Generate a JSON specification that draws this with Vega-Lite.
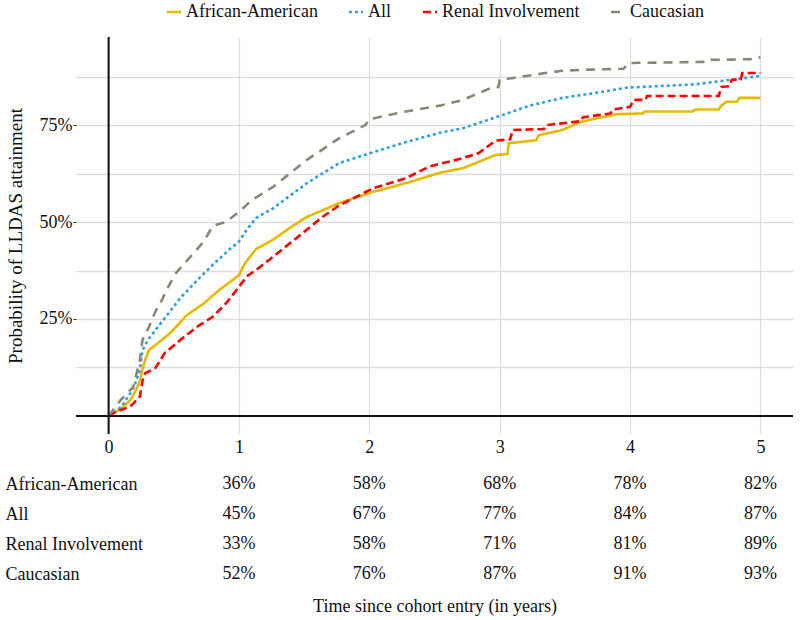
{
  "$schema": "https://vega.github.io/schema/vega-lite/v6.json",
  "background": "white",
  "padding": {"left": 5, "top": 3, "right": 7, "bottom": 4},
  "config": {
    "view": {"stroke": null},
    "font": "Liberation Serif",
    "axis": {"labelFont": "Liberation Serif", "titleFont": "Liberation Serif", "labelColor": "#111111", "titleColor": "#111111", "titleFontWeight": "normal"},
    "legend": {"labelFont": "Liberation Serif"},
    "text": {"font": "Liberation Serif"}
  },
  "datasets": {
    "curves": [
      {"group": "African-American", "t": 0, "p": 0},
      {"group": "African-American", "t": 0.05, "p": 0.01},
      {"group": "African-American", "t": 0.1, "p": 0.02},
      {"group": "African-American", "t": 0.165, "p": 0.04},
      {"group": "African-American", "t": 0.2, "p": 0.06},
      {"group": "African-American", "t": 0.24, "p": 0.09},
      {"group": "African-American", "t": 0.26, "p": 0.12},
      {"group": "African-American", "t": 0.28, "p": 0.144},
      {"group": "African-American", "t": 0.31, "p": 0.17},
      {"group": "African-American", "t": 0.38, "p": 0.188},
      {"group": "African-American", "t": 0.48, "p": 0.216},
      {"group": "African-American", "t": 0.6, "p": 0.26},
      {"group": "African-American", "t": 0.73, "p": 0.29},
      {"group": "African-American", "t": 0.85, "p": 0.325},
      {"group": "African-American", "t": 0.95, "p": 0.35},
      {"group": "African-American", "t": 1.0, "p": 0.363},
      {"group": "African-American", "t": 1.04, "p": 0.39},
      {"group": "African-American", "t": 1.06, "p": 0.4},
      {"group": "African-American", "t": 1.13, "p": 0.43},
      {"group": "African-American", "t": 1.26, "p": 0.454},
      {"group": "African-American", "t": 1.4, "p": 0.487},
      {"group": "African-American", "t": 1.52, "p": 0.513},
      {"group": "African-American", "t": 1.64, "p": 0.53},
      {"group": "African-American", "t": 1.77, "p": 0.549},
      {"group": "African-American", "t": 2.03, "p": 0.578},
      {"group": "African-American", "t": 2.28, "p": 0.6},
      {"group": "African-American", "t": 2.54, "p": 0.627},
      {"group": "African-American", "t": 2.72, "p": 0.639},
      {"group": "African-American", "t": 2.97, "p": 0.673},
      {"group": "African-American", "t": 3.06, "p": 0.675},
      {"group": "African-American", "t": 3.07, "p": 0.703},
      {"group": "African-American", "t": 3.28, "p": 0.711},
      {"group": "African-American", "t": 3.3, "p": 0.724},
      {"group": "African-American", "t": 3.48, "p": 0.737},
      {"group": "African-American", "t": 3.61, "p": 0.757},
      {"group": "African-American", "t": 3.74, "p": 0.767},
      {"group": "African-American", "t": 3.9, "p": 0.778},
      {"group": "African-American", "t": 4.1, "p": 0.78},
      {"group": "African-American", "t": 4.11, "p": 0.785},
      {"group": "African-American", "t": 4.48, "p": 0.785},
      {"group": "African-American", "t": 4.5, "p": 0.79},
      {"group": "African-American", "t": 4.68, "p": 0.79},
      {"group": "African-American", "t": 4.7, "p": 0.8},
      {"group": "African-American", "t": 4.74, "p": 0.81},
      {"group": "African-American", "t": 4.82, "p": 0.81},
      {"group": "African-American", "t": 4.84, "p": 0.82},
      {"group": "African-American", "t": 5.0, "p": 0.82},
      {"group": "All", "t": 0, "p": 0},
      {"group": "All", "t": 0.05, "p": 0.01},
      {"group": "All", "t": 0.1, "p": 0.025},
      {"group": "All", "t": 0.165, "p": 0.058},
      {"group": "All", "t": 0.2, "p": 0.08},
      {"group": "All", "t": 0.24, "p": 0.118},
      {"group": "All", "t": 0.26, "p": 0.17},
      {"group": "All", "t": 0.31, "p": 0.2},
      {"group": "All", "t": 0.43, "p": 0.252},
      {"group": "All", "t": 0.55, "p": 0.304},
      {"group": "All", "t": 0.68, "p": 0.35},
      {"group": "All", "t": 0.8, "p": 0.39},
      {"group": "All", "t": 0.93, "p": 0.43},
      {"group": "All", "t": 1.0, "p": 0.45},
      {"group": "All", "t": 1.06, "p": 0.48},
      {"group": "All", "t": 1.13, "p": 0.51},
      {"group": "All", "t": 1.26, "p": 0.535},
      {"group": "All", "t": 1.52, "p": 0.6},
      {"group": "All", "t": 1.77, "p": 0.652},
      {"group": "All", "t": 2.03, "p": 0.68},
      {"group": "All", "t": 2.28, "p": 0.706},
      {"group": "All", "t": 2.54, "p": 0.73},
      {"group": "All", "t": 2.72, "p": 0.742},
      {"group": "All", "t": 2.97, "p": 0.77},
      {"group": "All", "t": 3.23, "p": 0.8},
      {"group": "All", "t": 3.48, "p": 0.82},
      {"group": "All", "t": 3.74, "p": 0.833},
      {"group": "All", "t": 3.99, "p": 0.847},
      {"group": "All", "t": 4.2, "p": 0.85},
      {"group": "All", "t": 4.5, "p": 0.855},
      {"group": "All", "t": 4.76, "p": 0.866},
      {"group": "All", "t": 4.9, "p": 0.872},
      {"group": "All", "t": 5.0, "p": 0.877},
      {"group": "Renal Involvement", "t": 0, "p": 0},
      {"group": "Renal Involvement", "t": 0.05, "p": 0.01},
      {"group": "Renal Involvement", "t": 0.165, "p": 0.024},
      {"group": "Renal Involvement", "t": 0.24, "p": 0.05},
      {"group": "Renal Involvement", "t": 0.26, "p": 0.09},
      {"group": "Renal Involvement", "t": 0.28, "p": 0.11},
      {"group": "Renal Involvement", "t": 0.36, "p": 0.124},
      {"group": "Renal Involvement", "t": 0.43, "p": 0.162},
      {"group": "Renal Involvement", "t": 0.55, "p": 0.196},
      {"group": "Renal Involvement", "t": 0.68, "p": 0.23},
      {"group": "Renal Involvement", "t": 0.8, "p": 0.256},
      {"group": "Renal Involvement", "t": 0.9, "p": 0.29},
      {"group": "Renal Involvement", "t": 1.0, "p": 0.333},
      {"group": "Renal Involvement", "t": 1.06, "p": 0.36},
      {"group": "Renal Involvement", "t": 1.13, "p": 0.376},
      {"group": "Renal Involvement", "t": 1.26, "p": 0.41},
      {"group": "Renal Involvement", "t": 1.39, "p": 0.445},
      {"group": "Renal Involvement", "t": 1.52, "p": 0.48},
      {"group": "Renal Involvement", "t": 1.64, "p": 0.513},
      {"group": "Renal Involvement", "t": 1.77, "p": 0.543},
      {"group": "Renal Involvement", "t": 2.03, "p": 0.587},
      {"group": "Renal Involvement", "t": 2.28, "p": 0.613},
      {"group": "Renal Involvement", "t": 2.46, "p": 0.643},
      {"group": "Renal Involvement", "t": 2.72, "p": 0.665},
      {"group": "Renal Involvement", "t": 2.84, "p": 0.678},
      {"group": "Renal Involvement", "t": 2.97, "p": 0.71},
      {"group": "Renal Involvement", "t": 3.08, "p": 0.713},
      {"group": "Renal Involvement", "t": 3.1, "p": 0.737},
      {"group": "Renal Involvement", "t": 3.34, "p": 0.74},
      {"group": "Renal Involvement", "t": 3.36, "p": 0.75},
      {"group": "Renal Involvement", "t": 3.62, "p": 0.76},
      {"group": "Renal Involvement", "t": 3.64, "p": 0.77},
      {"group": "Renal Involvement", "t": 3.85, "p": 0.78},
      {"group": "Renal Involvement", "t": 3.87, "p": 0.79},
      {"group": "Renal Involvement", "t": 4.0, "p": 0.797},
      {"group": "Renal Involvement", "t": 4.03, "p": 0.815},
      {"group": "Renal Involvement", "t": 4.12, "p": 0.815},
      {"group": "Renal Involvement", "t": 4.13, "p": 0.825},
      {"group": "Renal Involvement", "t": 4.68, "p": 0.825},
      {"group": "Renal Involvement", "t": 4.7, "p": 0.848},
      {"group": "Renal Involvement", "t": 4.76, "p": 0.85},
      {"group": "Renal Involvement", "t": 4.78, "p": 0.866},
      {"group": "Renal Involvement", "t": 4.85, "p": 0.868},
      {"group": "Renal Involvement", "t": 4.86, "p": 0.884},
      {"group": "Renal Involvement", "t": 5.0, "p": 0.884},
      {"group": "Caucasian", "t": 0, "p": 0},
      {"group": "Caucasian", "t": 0.09, "p": 0.04},
      {"group": "Caucasian", "t": 0.19, "p": 0.075},
      {"group": "Caucasian", "t": 0.24, "p": 0.144},
      {"group": "Caucasian", "t": 0.26, "p": 0.196},
      {"group": "Caucasian", "t": 0.31, "p": 0.23},
      {"group": "Caucasian", "t": 0.36, "p": 0.27},
      {"group": "Caucasian", "t": 0.41, "p": 0.3},
      {"group": "Caucasian", "t": 0.46, "p": 0.335},
      {"group": "Caucasian", "t": 0.52, "p": 0.37},
      {"group": "Caucasian", "t": 0.6, "p": 0.4},
      {"group": "Caucasian", "t": 0.73, "p": 0.45},
      {"group": "Caucasian", "t": 0.8, "p": 0.49},
      {"group": "Caucasian", "t": 0.9, "p": 0.5},
      {"group": "Caucasian", "t": 1.0, "p": 0.526},
      {"group": "Caucasian", "t": 1.1, "p": 0.557},
      {"group": "Caucasian", "t": 1.26, "p": 0.59},
      {"group": "Caucasian", "t": 1.52, "p": 0.66},
      {"group": "Caucasian", "t": 1.77, "p": 0.716},
      {"group": "Caucasian", "t": 1.97, "p": 0.75},
      {"group": "Caucasian", "t": 2.0, "p": 0.765},
      {"group": "Caucasian", "t": 2.15, "p": 0.776},
      {"group": "Caucasian", "t": 2.28, "p": 0.785},
      {"group": "Caucasian", "t": 2.54, "p": 0.8},
      {"group": "Caucasian", "t": 2.71, "p": 0.814},
      {"group": "Caucasian", "t": 2.93, "p": 0.845},
      {"group": "Caucasian", "t": 2.99, "p": 0.848},
      {"group": "Caucasian", "t": 3.0, "p": 0.866},
      {"group": "Caucasian", "t": 3.35, "p": 0.884},
      {"group": "Caucasian", "t": 3.48, "p": 0.89},
      {"group": "Caucasian", "t": 3.69, "p": 0.893},
      {"group": "Caucasian", "t": 3.95, "p": 0.895},
      {"group": "Caucasian", "t": 3.99, "p": 0.91},
      {"group": "Caucasian", "t": 4.6, "p": 0.913},
      {"group": "Caucasian", "t": 4.62, "p": 0.918},
      {"group": "Caucasian", "t": 4.95, "p": 0.92},
      {"group": "Caucasian", "t": 5.0, "p": 0.925}
    ],
    "table": [
      {"group": "African-American", "year": 1, "pct": 0.36},
      {"group": "African-American", "year": 2, "pct": 0.58},
      {"group": "African-American", "year": 3, "pct": 0.68},
      {"group": "African-American", "year": 4, "pct": 0.78},
      {"group": "African-American", "year": 5, "pct": 0.82},
      {"group": "All", "year": 1, "pct": 0.45},
      {"group": "All", "year": 2, "pct": 0.67},
      {"group": "All", "year": 3, "pct": 0.77},
      {"group": "All", "year": 4, "pct": 0.84},
      {"group": "All", "year": 5, "pct": 0.87},
      {"group": "Renal Involvement", "year": 1, "pct": 0.33},
      {"group": "Renal Involvement", "year": 2, "pct": 0.58},
      {"group": "Renal Involvement", "year": 3, "pct": 0.71},
      {"group": "Renal Involvement", "year": 4, "pct": 0.81},
      {"group": "Renal Involvement", "year": 5, "pct": 0.89},
      {"group": "Caucasian", "year": 1, "pct": 0.52},
      {"group": "Caucasian", "year": 2, "pct": 0.76},
      {"group": "Caucasian", "year": 3, "pct": 0.87},
      {"group": "Caucasian", "year": 4, "pct": 0.91},
      {"group": "Caucasian", "year": 5, "pct": 0.93}
    ]
  },
  "spacing": 13,
  "resolve": {"legend": {"color": "independent", "strokeDash": "independent"}, "scale": {"x": "independent"}},
  "vconcat": [
    {
      "width": 717,
      "height": 397,
      "layer": [
        {
          "data": {"name": "curves"},
          "mark": {"type": "line", "strokeWidth": 2.6, "interpolate": "linear"},
          "encoding": {
            "x": {
              "field": "t", "type": "quantitative",
              "scale": {"domain": [-0.25, 5.25], "nice": false, "zero": false},
              "axis": {
                "values": [0, 0.5, 1, 1.5, 2, 2.5, 3, 3.5, 4, 4.5, 5],
                "format": "d",
                "labelExpr": "datum.value % 1 === 0 ? datum.label : ''",
                "tickSize": 0, "labelPadding": 4, "domain": false,
                "grid": true, "gridColor": "#DEDEDE", "gridWidth": 1.3,
                "labelFont": "Liberation Serif", "labelFontSize": 18, "labelColor": "#111111", "title": null
              }
            },
            "y": {
              "field": "p", "type": "quantitative",
              "scale": {"domain": [-0.0465, 0.977], "nice": false, "zero": false},
              "axis": {
                "values": [0, 0.125, 0.25, 0.375, 0.5, 0.625, 0.75, 0.875],
                "format": ".0%",
                "labelExpr": "indexof([0.25, 0.5, 0.75], datum.value) >= 0 ? datum.label : ''",
                "tickColor": {"condition": {"test": "indexof([0.25, 0.5, 0.75], datum.value) >= 0", "value": "#333333"}, "value": "transparent"},
                "tickSize": 3, "labelPadding": 1, "domain": false,
                "grid": true, "gridColor": "#DEDEDE", "gridWidth": 1.3,
                "labelFont": "Liberation Serif", "labelFontSize": 18, "labelColor": "#111111",
                "title": "Probability of LLDAS attainment",
                "titleFont": "Liberation Serif", "titleFontWeight": "normal",
                "titleFontSize": 19, "titlePadding": 14
              }
            },
            "color": {
              "field": "group", "type": "nominal",
              "scale": {"domain": ["African-American", "All", "Renal Involvement", "Caucasian"], "range": ["#E7B800", "#2E9FDF", "#FF0000", "#8A8777"]},
              "legend": {"orient": "none", "legendX": 89, "legendY": -34, "direction": "horizontal", "title": null, "symbolType": "stroke", "symbolStrokeWidth": 2.5, "symbolSize": 200, "labelFont": "Liberation Serif", "labelFontSize": 18, "labelColor": "#111111", "columnPadding": 25, "labelOffset": 3}
            },
            "strokeDash": {
              "field": "group", "type": "nominal",
              "scale": {"domain": ["African-American", "All", "Renal Involvement", "Caucasian"], "range": [[1, 0], [3, 3], [8, 4], [9, 7]]},
              "legend": {"orient": "none", "legendX": 89, "legendY": -34, "direction": "horizontal", "title": null, "symbolType": "stroke", "symbolStrokeWidth": 2.5, "symbolSize": 200, "labelFont": "Liberation Serif", "labelFontSize": 18, "labelColor": "#111111", "columnPadding": 25, "labelOffset": 3}
            }
          }
        },
        {
          "data": {"values": [{}]},
          "mark": {"type": "rule", "color": "#111111", "strokeWidth": 2},
          "encoding": {"x": {"datum": 0}}
        },
        {
          "data": {"values": [{}]},
          "mark": {"type": "rule", "color": "#111111", "strokeWidth": 2},
          "encoding": {"y": {"datum": 0}}
        }
      ]
    },
    {
      "width": 717,
      "height": 120,
      "data": {"name": "table"},
      "mark": {"type": "text", "font": "Liberation Serif", "fontSize": 18, "color": "#111111", "align": "center", "baseline": "middle"},
      "encoding": {
        "x": {
          "field": "year", "type": "quantitative",
          "scale": {"domain": [-0.25, 5.25], "nice": false, "zero": false},
          "axis": {"labels": false, "ticks": false, "domain": false, "grid": false, "title": "Time since cohort entry (in years)", "titleFont": "Liberation Serif", "titleFontWeight": "normal", "titleColor": "#111111", "titleFontSize": 18, "titlePadding": 8}
        },
        "y": {
          "field": "group", "type": "nominal",
          "sort": ["African-American", "All", "Renal Involvement", "Caucasian"],
          "axis": {"domain": false, "ticks": false, "tickSize": 0, "grid": false, "title": null, "labelAlign": "left", "labelPadding": 71, "labelFont": "Liberation Serif", "labelFontSize": 18, "labelColor": "#111111"}
        },
        "text": {"field": "pct", "type": "quantitative", "format": ".0%"}
      }
    }
  ]
}
